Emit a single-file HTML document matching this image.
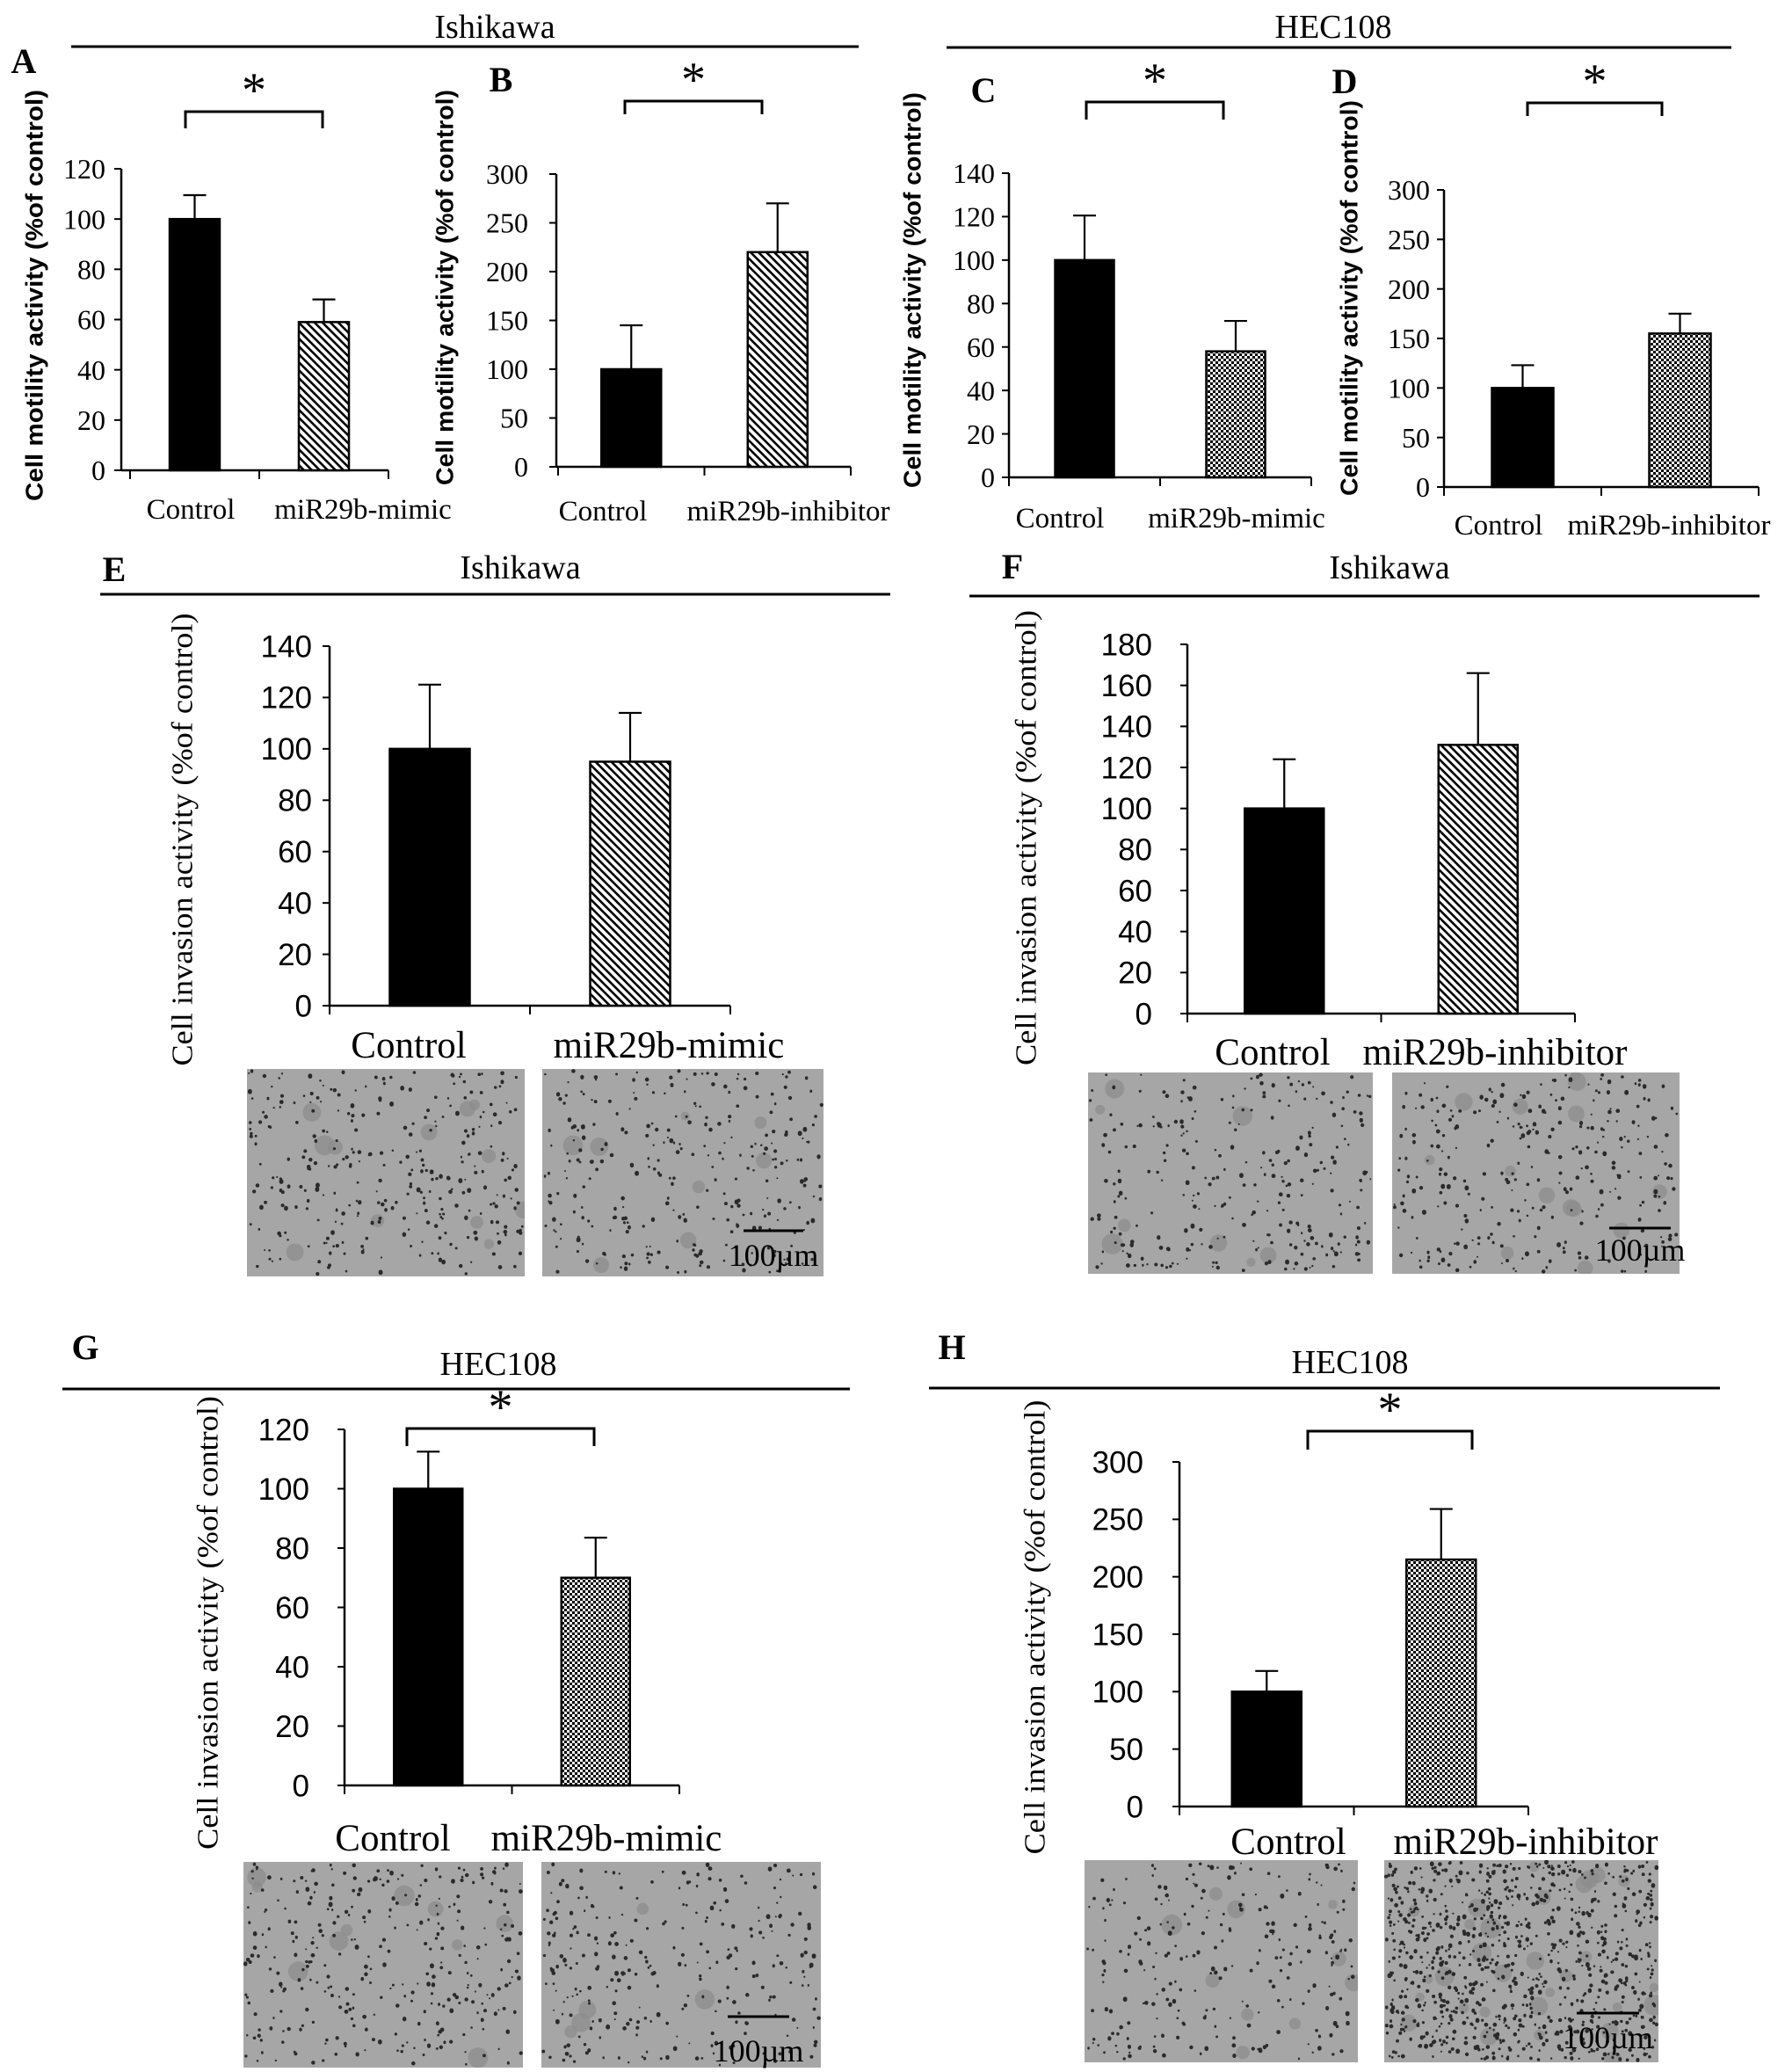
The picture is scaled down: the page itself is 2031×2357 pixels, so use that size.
<!DOCTYPE html>
<html><head><meta charset="utf-8">
<style>
html,body{margin:0;padding:0;background:#fff;}
svg{display:block;}
</style></head>
<body>
<svg id="fig" xmlns="http://www.w3.org/2000/svg" width="2031" height="2357" viewBox="0 0 2031 2357">
<defs>
<pattern id="hatch" patternUnits="userSpaceOnUse" width="9" height="9">
<rect width="9" height="9" fill="#fff"/>
<path d="M-2,-2 L11,11 M-2,7 L2,11 M7,-2 L11,2" stroke="#000" stroke-width="2.6"/>
</pattern>
<pattern id="checker" patternUnits="userSpaceOnUse" width="6" height="6">
<rect width="6" height="6" fill="#fff"/>
<rect width="3" height="3" fill="#000"/>
<rect x="3" y="3" width="3" height="3" fill="#000"/>
</pattern>
</defs>
<g id="layer"></g>
</svg>
<script>
// ---- chart data ----
const catsMimic = ["Control", "miR29b-mimic"];
const catsInhib = ["Control", "miR29b-inhibitor"];
const valuesA = [100, 59];   const errA = [9.5, 9];
const valuesB = [100, 220];  const errB = [45, 50];
const valuesC = [100, 58];   const errC = [20.5, 14];
const valuesD = [100, 155];  const errD = [23, 20];
const valuesE = [100, 95];   const errE = [25, 19];
const valuesF = [100, 131];  const errF = [24, 35];
const valuesG = [100, 70];   const errG = [12.5, 13.5];
const valuesH = [100, 215];  const errH = [18, 44];
const ticksA = [0, 20, 40, 60, 80, 100, 120];
const ticksB = [0, 50, 100, 150, 200, 250, 300];
const ticksC = [0, 20, 40, 60, 80, 100, 120, 140];
const ticksD = [0, 50, 100, 150, 200, 250, 300];
const ticksE = [0, 20, 40, 60, 80, 100, 120, 140];
const ticksF = [0, 20, 40, 60, 80, 100, 120, 140, 160, 180];
const ticksG = [0, 20, 40, 60, 80, 100, 120];
const ticksH = [0, 50, 100, 150, 200, 250, 300];

const NS = "http://www.w3.org/2000/svg";
const layer = document.getElementById("layer");
function mk(tag, attrs, parent, text) {
  const e = document.createElementNS(NS, tag);
  for (const k in attrs) e.setAttribute(k, attrs[k]);
  if (text !== undefined) e.textContent = text;
  (parent || layer).appendChild(e);
  return e;
}
const SERIF = "'Liberation Serif', serif";
const SANS = "'Liberation Sans', sans-serif";

function header(name, title, cx, cy, x1, x2, ly, fs) {
  const g = mk("g", {});
  
  
  const t = mk("text", {x: cx, y: cy, "font-family": SERIF, "font-size": fs, "text-anchor": "middle"}, g, title);
  
  
  const l = mk("line", {x1: x1, x2: x2, y1: ly, y2: ly, stroke: "#000", "stroke-width": 3}, g);
  
  
}
header("header-ishikawa-ab", "Ishikawa", 563, 43, 81, 977, 53, 38);
header("header-hec108-cd", "HEC108", 1517, 43, 1077, 1970, 54, 38);
header("header-ishikawa-e", "Ishikawa", 592, 658, 114, 1013, 676, 38);
header("header-ishikawa-f", "Ishikawa", 1581, 658, 1103, 2002, 678, 38);
header("header-hec108-g", "HEC108", 567, 1564, 71, 967, 1580, 38);
header("header-hec108-h", "HEC108", 1536, 1562, 1057, 1957, 1579, 38);

function panelLetter(ch, x, y) {
  const t = mk("text", {x: x, y: y, "font-family": SERIF, "font-size": 40, "font-weight": "bold", "text-anchor": "middle"}, layer, ch);
  
  
}
panelLetter("A", 27, 83); panelLetter("B", 570, 104); panelLetter("C", 1119, 116); panelLetter("D", 1530, 106);
panelLetter("E", 130, 661); panelLetter("F", 1152, 658); panelLetter("G", 97, 1546); panelLetter("H", 1083, 1546);

function panel(o) {
  const g = mk("g", {});
  
  
  const tmax = o.ticks[o.ticks.length - 1];
  const yS = v => o.y0 - (v / tmax) * (o.y0 - o.yTop);
  const bandW = (o.t2 - o.t0) / o.cats.length;
  const xC = i => o.t0 + bandW * (i + 0.5);
  const ya = mk("line", {x1: o.x0, x2: o.x0, y1: o.yTop, y2: o.y0, stroke: "#000", "stroke-width": 2.5}, g);
  
  
  o.ticks.forEach(v => {
    const tk = mk("line", {x1: o.x0 - 8, x2: o.x0, y1: yS(v), y2: yS(v), stroke: "#000", "stroke-width": 2}, g);
    
    
    const tl = mk("text", {x: o.x0 - o.tgap, y: yS(v) + o.tfs * 0.35, "font-family": o.tfont, "font-size": o.tfs, "text-anchor": "end"}, g, String(v));
    
    
  });
  const xa = mk("line", {x1: o.x0, x2: o.t2, y1: o.y0, y2: o.y0, stroke: "#000", "stroke-width": 2.5}, g);
  
  
  for (let i = 0; i <= o.cats.length; i++) {
    const xx = o.t0 + bandW * i;
    const tk = mk("line", {x1: xx, x2: xx, y1: o.y0, y2: o.y0 + 10, stroke: "#000", "stroke-width": 2}, g);
    
    
  }
  o.values.forEach((v, i) => {
    const cx = xC(i);
    const top = yS(v);
    const b = mk("rect", {x: cx - o.barW / 2, y: top, width: o.barW, height: o.y0 - top,
      fill: i === 0 ? "#000" : "url(#" + o.pat + ")", stroke: "#000", "stroke-width": 2.5}, g);
    
    
    const et = yS(v + o.err[i]);
    const e1 = mk("line", {x1: cx, x2: cx, y1: top, y2: et, stroke: "#000", "stroke-width": 2.2}, g);
    
    
    const e2 = mk("line", {x1: cx - 13, x2: cx + 13, y1: et, y2: et, stroke: "#000", "stroke-width": 2.2}, g);
    
    
    const xl = mk("text", {x: o.xlx[i], y: o.xly, "font-family": SERIF, "font-size": o.xfs, "text-anchor": "middle"}, g, o.cats[i]);
    
    
  });
  const yt = mk("text", {x: 0, y: 0, transform: "translate(" + o.ylx + "," + o.yly + ") rotate(-90)",
    "font-family": o.yfont, "font-size": o.yfs, "font-weight": o.ybold ? "bold" : "normal", "text-anchor": "middle",
    "dominant-baseline": "central", textLength: o.ylen, lengthAdjust: "spacingAndGlyphs"}, g, o.ytitle);
  
  
  if (o.br) {
    const p = mk("path", {d: "M" + o.br[0] + "," + o.br[3] + " V" + o.br[2] + " H" + o.br[1] + " V" + o.br[3], fill: "none", stroke: "#000", "stroke-width": 3}, g);
    
    
    const s = mk("text", {x: (o.br[0] + o.br[1]) / 2, y: o.br[2] - 6, "font-family": SERIF, "font-size": 56, "text-anchor": "middle"}, g, "*");
    
    
  }
}
const motility = "Cell motility activity  (%of control)";
const invasion = "Cell invasion activity  (%of control)";
panel({id: "a", cats: catsMimic, values: valuesA, err: errA, ticks: ticksA, pat: "hatch", x0: 138, t0: 148, t2: 442, barW: 57, yTop: 192, y0: 535,
  tfont: SERIF, tfs: 32, tgap: 18, xly: 590, xfs: 33, xlx: [217, 413], ylx: 39, yly: 336, ytitle: motility, yfont: SANS, yfs: 28, ybold: true, ylen: 468, br: [211, 367, 127, 146]});
panel({id: "b", cats: catsInhib, values: valuesB, err: errB, ticks: ticksB, pat: "hatch", x0: 633, t0: 635, t2: 968, barW: 68, yTop: 198, y0: 531,
  tfont: SERIF, tfs: 32, tgap: 32, xly: 592, xfs: 33, xlx: [686, 897], ylx: 506, yly: 327, ytitle: motility, yfont: SANS, yfs: 28, ybold: true, ylen: 450, br: [711, 867, 115, 130]});
panel({id: "c", cats: catsMimic, values: valuesC, err: errC, ticks: ticksC, pat: "checker", x0: 1148, t0: 1148, t2: 1492, barW: 67, yTop: 197, y0: 543,
  tfont: SERIF, tfs: 32, tgap: 16, xly: 600, xfs: 33, xlx: [1206, 1407], ylx: 1038, yly: 330, ytitle: motility, yfont: SANS, yfs: 28, ybold: true, ylen: 450, br: [1236, 1392, 116, 136]});
panel({id: "d", cats: catsInhib, values: valuesD, err: errD, ticks: ticksD, pat: "checker", x0: 1643, t0: 1643, t2: 2001, barW: 70, yTop: 216, y0: 554,
  tfont: SERIF, tfs: 32, tgap: 16, xly: 608, xfs: 33, xlx: [1705, 1899], ylx: 1535, yly: 339, ytitle: motility, yfont: SANS, yfs: 28, ybold: true, ylen: 450, br: [1738, 1891, 117, 132]});
panel({id: "e", cats: catsMimic, values: valuesE, err: errE, ticks: ticksE, pat: "hatch", x0: 375, t0: 375, t2: 831, barW: 91, yTop: 735, y0: 1144,
  tfont: SANS, tfs: 35, tgap: 20, xly: 1203, xfs: 43, xlx: [465, 761], ylx: 208, yly: 955, ytitle: invasion, yfont: SERIF, yfs: 34, ybold: false, ylen: 515});
panel({id: "f", cats: catsInhib, values: valuesF, err: errF, ticks: ticksF, pat: "hatch", x0: 1351, t0: 1351, t2: 1792, barW: 90, yTop: 733, y0: 1153,
  tfont: SANS, tfs: 35, tgap: 40, xly: 1211, xfs: 43, xlx: [1448, 1701], ylx: 1168, yly: 953, ytitle: invasion, yfont: SERIF, yfs: 34, ybold: false, ylen: 518});
panel({id: "g", cats: catsMimic, values: valuesG, err: errG, ticks: ticksG, pat: "checker", x0: 392, t0: 392, t2: 773, barW: 78, yTop: 1626, y0: 2031,
  tfont: SANS, tfs: 35, tgap: 40, xly: 2105, xfs: 43, xlx: [447, 690], ylx: 237, yly: 1846, ytitle: invasion, yfont: SERIF, yfs: 34, ybold: false, ylen: 516, br: [463, 676, 1625, 1645]});
panel({id: "h", cats: catsInhib, values: valuesH, err: errH, ticks: ticksH, pat: "checker", x0: 1342, t0: 1342, t2: 1739, barW: 79, yTop: 1663, y0: 2055,
  tfont: SANS, tfs: 35, tgap: 41, xly: 2109, xfs: 43, xlx: [1466, 1736], ylx: 1178, yly: 1851, ytitle: invasion, yfont: SERIF, yfs: 34, ybold: false, ylen: 517, br: [1488, 1675, 1628, 1649]});

// ---- micrographs (decorative texture) ----
let seed = 12345;
let clipN = 0;
function rnd() { seed = (seed * 1103515245 + 12345) % 2147483648; return seed / 2147483648; }
function micro(name, x, y, w, h, n, blobs, sb) {
  const g = mk("g", {});
  
  
  const cid = "clip" + (clipN++);
  const cp = mk("clipPath", {id: cid}, g);
  mk("rect", {x: x, y: y, width: w, height: h}, cp);
  const inner = mk("g", {"clip-path": "url(#" + cid + ")"}, g);
  mk("rect", {x: x, y: y, width: w, height: h, fill: "#a6a6a6"}, inner);
  for (let i = 0; i < blobs; i++) {
    mk("circle", {cx: x + rnd() * w, cy: y + rnd() * h, r: 5 + rnd() * 7, fill: "#8c8c8c", opacity: 0.7}, inner);
  }
  let d = "";
  for (let i = 0; i < n; i++) {
    const cx = x + 2 + rnd() * (w - 4), cy = y + 2 + rnd() * (h - 4), r = 1 + rnd() * 1.4;
    d += "M" + (cx - r).toFixed(1) + "," + cy.toFixed(1) + "a" + r.toFixed(1) + "," + r.toFixed(1) + " 0 1,0 " + (2 * r).toFixed(1) + ",0a" + r.toFixed(1) + "," + r.toFixed(1) + " 0 1,0 " + (-2 * r).toFixed(1) + ",0";
  }
  mk("path", {d: d, fill: "#2a2a2a"}, inner);
  if (sb) {
    const l = mk("line", {x1: sb[0], x2: sb[1], y1: sb[2], y2: sb[2], stroke: "#000", "stroke-width": 3}, g);
    
    
    const t = mk("text", {x: (sb[0] + sb[1]) / 2, y: sb[3], "font-family": SERIF, "font-size": 36, "text-anchor": "middle"}, g, "100µm");
    
    
  }
}
micro("micrograph-e-control", 281, 1216, 316, 236, 320, 12);
micro("micrograph-e-mimic", 617, 1216, 320, 236, 300, 8, [846, 914, 1400, 1440]);
micro("micrograph-f-control", 1238, 1220, 324, 229, 280, 8);
micro("micrograph-f-inhibitor", 1584, 1220, 327, 229, 300, 14, [1831, 1901, 1397, 1434]);
micro("micrograph-g-control", 277, 2118, 318, 234, 330, 10);
micro("micrograph-g-mimic", 616, 2118, 318, 234, 280, 5, [828, 898, 2294, 2345]);
micro("micrograph-h-control", 1234, 2116, 311, 230, 260, 10);
micro("micrograph-h-inhibitor", 1575, 2116, 312, 230, 900, 30, [1794, 1865, 2290, 2330]);
</script>
</body></html>
